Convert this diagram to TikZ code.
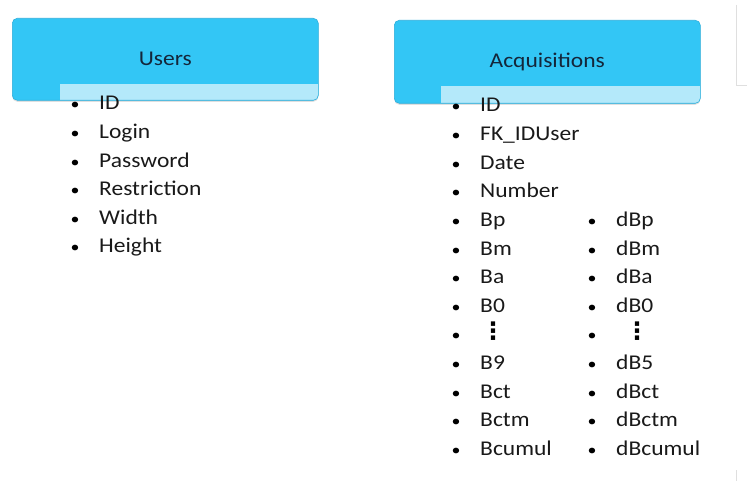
\documentclass[tikz,border=0pt]{standalone}
\usepackage{fontspec}
\setmainfont{Carlito}[FakeStretch=1.12]
\newfontfamily\symfont{DejaVu Sans}
\usetikzlibrary{positioning, shadows}
\definecolor{tabC}{RGB}{51,198,245}
\definecolor{bandC}{RGB}{180,233,250}
\definecolor{edgeC}{RGB}{45,175,220}
\definecolor{titleC}{RGB}{20,38,58}
\tikzset{
  tabbox/.style={draw=edgeC, line width=0.6pt, fill=tabC, rounded corners=5pt,
    minimum width=306pt, anchor=north west, font=\fontsize{21}{25}\selectfont, text=titleC,
    drop shadow={opacity=0.25, shadow xshift=0pt, shadow yshift=-1.5pt}},
  field/.style={anchor=base west, inner sep=0pt, font=\fontsize{21}{25}\selectfont, text=black!90},
  bul/.style={anchor=base, inner sep=0pt, font=\fontsize{16}{20}\selectfont},
  elided/.style={inner sep=0pt, font=\symfont\bfseries\fontsize{24}{28}\selectfont}
}

\begin{document}
\begin{tikzpicture}[x=1pt, y=-1pt]
\useasboundingbox (0,0) rectangle (747,481);
% ===== table: Users =====
\node[tabbox, minimum height=82pt,
  path picture={\fill[bandC, sharp corners] ([xshift=48pt,yshift=16pt]path picture bounding box.south west) rectangle (path picture bounding box.south east);}]
  (users) at (12,18) {Users};
\foreach \txt [count=\i] in {ID,Login,Password,Restriction,Width,Height}{
  \node[bul] (ub\i) at (75,{110+28.6*(\i-1)}) {•};
  \node[field] (uf\i) at (99,{110+28.6*(\i-1)}) {\txt};
}
% ===== table: Acquisitions =====
\node[tabbox, minimum height=83pt,
  path picture={\fill[bandC, sharp corners] ([xshift=47pt,yshift=17pt]path picture bounding box.south west) rectangle (path picture bounding box.south east);}]
  (acq) at (394,20) {Acquisitions};
\foreach \txt [count=\i] in {ID,FK\_IDUser,Date,Number,Bp,Bm,Ba,B0,{},B9,Bct,Bctm,Bcumul}{
  \node[bul] (ab\i) at (456,{112+28.6*(\i-1)}) {•};
  \node[field] (af\i) at (480,{112+28.6*(\i-1)}) {\txt};
}
\foreach \txt [count=\i from 5] in {dBp,dBm,dBa,dB0,{},dB5,dBct,dBctm,dBcumul}{
  \node[bul] (db\i) at (592,{112+28.6*(\i-1)}) {•};
  \node[field] (df\i) at (616,{112+28.6*(\i-1)}) {\txt};
}
% elided rows
\node[elided] (dotsA) at (493,331) {⋮};
\node[elided] (dotsB) at (637,331) {⋮};
% faint frame at the right edge
\draw[gray!25, thin] (736,5) -- (736,85) -- (747,85);
\draw[gray!25, thin] (736,470) -- (736,481);
\end{tikzpicture}
\end{document}
